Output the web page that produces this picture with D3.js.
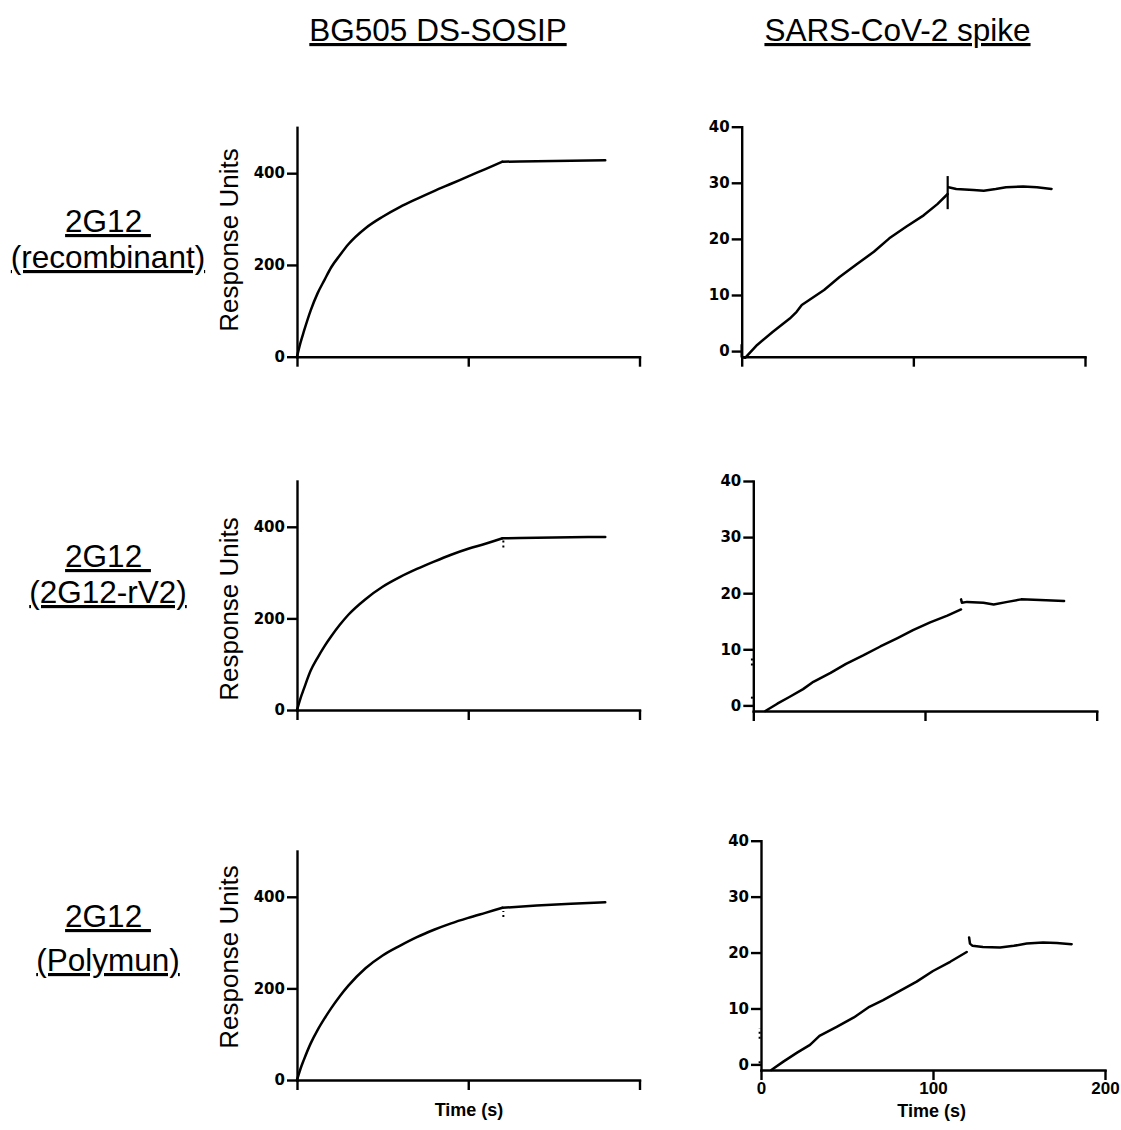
<!DOCTYPE html>
<html>
<head>
<meta charset="utf-8">
<script src="https://cdn.jsdelivr.net/npm/d3@7"></script>
<style>
  body { margin: 0; background: #fff; }
  svg { display: block; }
</style>
</head>
<body>
<svg id="fig" width="1121" height="1130"></svg>
<script>
// ---- labels ----
const columnTitles = ["BG505 DS-SOSIP", "SARS-CoV-2 spike"];
const rowLabels = [["2G12 ", "(recombinant)"], ["2G12 ", "(2G12-rV2)"], ["2G12 ", "(Polymun)"]];
const yAxisTitle = "Response Units";
const xAxisTitle = "Time (s)";

// ---- axis ticks ----
const timeDomain = [0, 200];
const timeTicks = [0, 100, 200];
const bgDomain = [0, 500];
const bgTicks = [0, 200, 400];
const covDomain = [-1, 40];
const covTicks = [0, 10, 20, 30, 40];

// ---- BG505 DS-SOSIP sensorgrams (RU) ----
const bgAssocTime = [0, 2, 4, 8, 12, 16, 20, 25, 30, 40, 50, 60, 70, 80, 90, 100, 110, 120];
const bgAssocRecombinant = [0, 30, 55, 101, 138, 167, 195, 221, 245, 280, 305, 326, 344, 361, 377, 393, 409, 425];
const bgAssocRV2 = [0, 25, 46, 86, 114, 139, 161, 186, 208, 242, 269, 290, 308, 324, 339, 352, 363, 375];
const bgAssocPolymun = [0, 24, 44, 80, 109, 134, 157, 183, 206, 244, 272, 293, 312, 328, 342, 354, 365, 376];
const bgDissTime = [120, 140, 160, 180];
const bgDissRecombinant = [425, 426, 427, 428];
const bgDissRV2 = [375, 376, 377, 378];
const bgDissPolymun = [376, 381, 385, 388];
// short dotted trace segment at the end of injection (time, from, to)
const bgInjectionMarks = [null, [120.5, 355, 372], [120.5, 356, 369]];

// ---- SARS-CoV-2 spike sensorgrams (RU) ----
const covAssocTimeRecombinant = [0, 0, 2, 9, 18, 28, 32, 35, 48, 57, 67, 77, 86, 96, 106, 114, 120];
const covAssocRecombinant = [1.1, -1.0, -1.2, 1.1, 3.4, 5.8, 7.0, 8.2, 10.9, 13.2, 15.5, 17.7, 20.1, 22.2, 24.2, 26.2, 28.0];
const covDissTimeRecombinant = [120.5, 125, 135, 141, 148, 154, 164, 172, 180.5];
const covDissRecombinant = [29.2, 28.9, 28.7, 28.6, 28.9, 29.2, 29.35, 29.2, 28.9];

const covAssocTimeRV2 = [7, 14, 21, 29, 35, 45, 54, 64, 74, 84, 93, 103, 113, 121];
const covAssocRV2 = [-1.0, 0.3, 1.5, 2.9, 4.2, 5.8, 7.4, 8.9, 10.5, 12.0, 13.4, 14.8, 16.0, 17.1];
const covDissTimeRV2 = [121, 121.5, 124.5, 134, 140, 148, 156, 167, 181];
const covDissRV2 = [18.9, 18.3, 18.45, 18.3, 18.0, 18.45, 18.9, 18.8, 18.6];

const covAssocTimePolymun = [6, 13, 21, 28.5, 34, 44, 54, 63, 71, 81, 90.5, 100, 110, 119.6];
const covAssocPolymun = [-1.0, 0.5, 2.1, 3.5, 5.1, 6.7, 8.4, 10.3, 11.5, 13.2, 14.8, 16.7, 18.35, 20.1];
const covDissTimePolymun = [121, 121.5, 123, 129, 139, 147, 154.5, 164, 172, 180.6];
const covDissPolymun = [22.7, 21.6, 21.2, 21.0, 20.9, 21.2, 21.6, 21.8, 21.7, 21.5];

// injection spike on the recombinant trace (time, from, to)
const covSpikes = [[120, 25.3, 31.2], null, null];
// dotted start-of-run artefacts at t = 0 (time, from, to)
const covStartMarks = [[], [[-0.8, 7.1, 8.5], [-0.8, 1.2, 1.9]], [[-0.8, 4.6, 6.4], [-0.8, 0.2, 0.9]]];

// ---- layout ----
const leftFrames = [
  { x0: 297, x1: 639.5, yBottom: 356.7, yTop: 127.3 },
  { x0: 297, x1: 639.5, yBottom: 710, yTop: 481 },
  { x0: 297, x1: 639.5, yBottom: 1080, yTop: 851 }
];
const rightFrames = [
  { x0: 741.7, x1: 1085, yBottom: 356.7, yTop: 126.7 },
  { x0: 753.3, x1: 1096.7, yBottom: 711, yTop: 481 },
  { x0: 761, x1: 1105, yBottom: 1070, yTop: 840.7 }
];
const rowLabelBaselines = [[232, 268], [567, 603], [927, 971]];
const yTitleCenters = [240, 609, 957];

const FONT = "'Liberation Sans', Arial, Helvetica, sans-serif";
const TICK_FONT = "'DejaVu Sans', 'Liberation Sans', sans-serif";
const svg = d3.select("#fig");

function drawPanel(frame, yDomain, yTicks, showXLabels) {
  const x = d3.scaleLinear().domain(timeDomain).range([frame.x0, frame.x1]);
  const y = d3.scaleLinear().domain(yDomain).range([frame.yBottom, frame.yTop]);
  const g = svg.append("g");

  const ya = g.append("g")
    .attr("transform", `translate(${frame.x0},0)`)
    .call(d3.axisLeft(y).tickValues(yTicks).tickSize(10).tickSizeOuter(0).tickPadding(2).tickFormat(d3.format("d")));
  ya.selectAll("text")
    .attr("font-family", TICK_FONT).attr("font-weight", "bold").attr("font-size", 15).attr("fill", "#000");

  const xa = g.append("g")
    .attr("transform", `translate(0,${frame.yBottom})`)
    .call(d3.axisBottom(x).tickValues(timeTicks).tickSize(10).tickSizeOuter(0).tickPadding(2).tickFormat(d3.format("d")));
  if (showXLabels) {
    xa.selectAll("text")
      .attr("font-family", FONT).attr("font-weight", "bold").attr("font-size", 17).attr("fill", "#000");
  } else {
    xa.selectAll("text").remove();
  }

  g.selectAll(".domain").attr("stroke", "#000").attr("stroke-width", 2.4).attr("stroke-linecap", "square");
  g.selectAll(".tick line").attr("stroke", "#000").attr("stroke-width", 2.4);
  return { x, y, g };
}

function trace(p, times, values, curve) {
  const line = d3.line().x(d => p.x(d[0])).y(d => p.y(d[1])).curve(curve);
  p.g.append("path")
    .datum(d3.zip(times, values))
    .attr("d", line)
    .attr("fill", "none")
    .attr("stroke", "#000")
    .attr("stroke-width", 2.5)
    .attr("stroke-linejoin", "round")
    .attr("stroke-linecap", "round");
}

function vMark(p, m, dashed) {
  p.g.append("line")
    .attr("x1", p.x(m[0])).attr("x2", p.x(m[0]))
    .attr("y1", p.y(m[1])).attr("y2", p.y(m[2]))
    .attr("stroke", "#000")
    .attr("stroke-width", dashed ? 2 : 2.2)
    .attr("stroke-dasharray", dashed ? "2,3" : null);
}

// ---- column titles ----
svg.selectAll("text.col-title")
  .data(columnTitles)
  .join("text")
  .attr("class", "col-title")
  .attr("x", (d, i) => [438, 897.5][i])
  .attr("y", 41)
  .attr("text-anchor", "middle")
  .attr("font-family", FONT)
  .attr("font-size", 31.5)
  .attr("text-decoration", "underline")
  .attr("fill", "#000")
  .text(d => d);

// ---- row labels ----
rowLabels.forEach((lines, r) => {
  lines.forEach((txt, k) => {
    svg.append("text")
      .attr("x", 108)
      .attr("y", rowLabelBaselines[r][k])
      .attr("text-anchor", "middle")
      .attr("font-family", FONT)
      .attr("font-size", 31.5)
      .attr("text-decoration", "underline")
      .attr("xml:space", "preserve")
      .style("white-space", "pre")
      .attr("fill", "#000")
      .text(txt);
  });
});

// ---- BG505 DS-SOSIP column ----
const bgAssoc = [bgAssocRecombinant, bgAssocRV2, bgAssocPolymun];
const bgDiss = [bgDissRecombinant, bgDissRV2, bgDissPolymun];
leftFrames.forEach((f, r) => {
  const p = drawPanel(f, bgDomain, bgTicks, false);
  trace(p, bgAssocTime, bgAssoc[r], d3.curveMonotoneX);
  trace(p, bgDissTime, bgDiss[r], d3.curveMonotoneX);
  if (bgInjectionMarks[r]) vMark(p, bgInjectionMarks[r], true);

  svg.append("text")
    .attr("transform", `translate(238,${yTitleCenters[r]}) rotate(-90)`)
    .attr("text-anchor", "middle")
    .attr("font-family", FONT)
    .attr("font-size", 26)
    .attr("fill", "#000")
    .text(yAxisTitle);
});

// ---- SARS-CoV-2 spike column ----
const covAssocT = [covAssocTimeRecombinant, covAssocTimeRV2, covAssocTimePolymun];
const covAssocV = [covAssocRecombinant, covAssocRV2, covAssocPolymun];
const covDissT = [covDissTimeRecombinant, covDissTimeRV2, covDissTimePolymun];
const covDissV = [covDissRecombinant, covDissRV2, covDissPolymun];
rightFrames.forEach((f, r) => {
  const p = drawPanel(f, covDomain, covTicks, r === 2);
  trace(p, covAssocT[r], covAssocV[r], d3.curveLinear);
  trace(p, covDissT[r], covDissV[r], d3.curveLinear);
  if (covSpikes[r]) vMark(p, covSpikes[r], false);
  covStartMarks[r].forEach(m => vMark(p, m, true));
});

// ---- time axis titles ----
[[469, 1116], [931.7, 1117]].forEach(([cx, cy]) => {
  svg.append("text")
    .attr("x", cx).attr("y", cy)
    .attr("text-anchor", "middle")
    .attr("font-family", FONT)
    .attr("font-weight", "bold")
    .attr("font-size", 18)
    .attr("fill", "#000")
    .text(xAxisTitle);
});
</script>
</body>
</html>
